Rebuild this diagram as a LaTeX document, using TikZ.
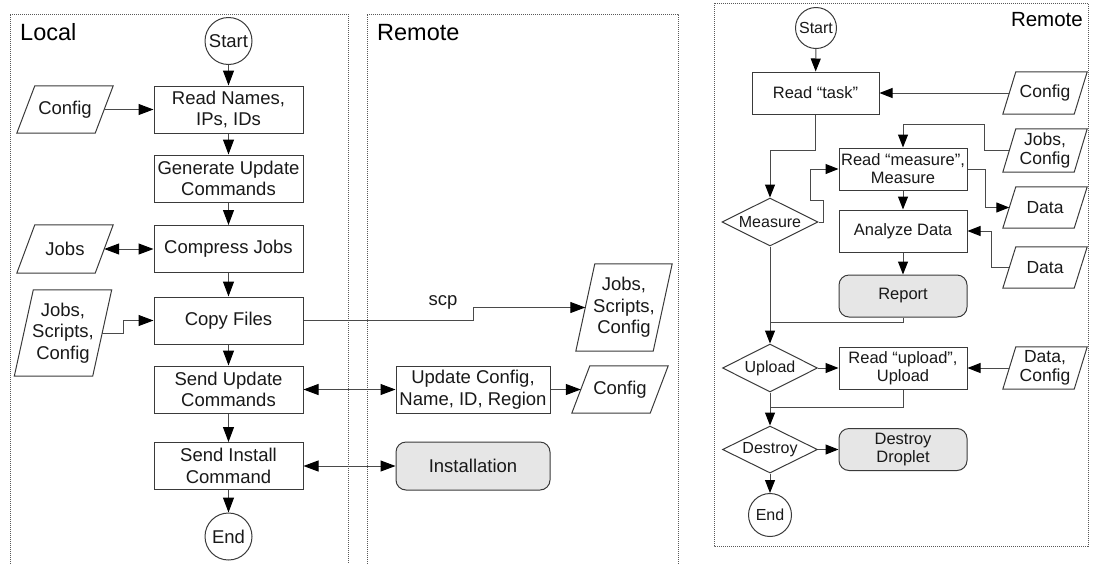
\documentclass[tikz,border=0pt]{standalone}
\usepackage{fontspec}
\setmainfont{Liberation Sans}
\usetikzlibrary{arrows.meta,calc,shapes.geometric}

\newcommand\fsL{\fontsize{18.5}{21.5}\selectfont}
\newcommand\fsR{\fontsize{16.5}{18}\selectfont}
\newcommand\fsIO{\fontsize{17.5}{19}\selectfont}
% slanted data (input/output) outline around a named text node
\newcommand\ioframe[2]{\draw[iofrm] ($(#1.south west)+(-#2,0)$) -- ($(#1.north west)+(#2,0)$) -- ($(#1.north east)+(#2,0)$) -- ($(#1.south east)+(-#2,0)$) -- cycle;}

\definecolor{edge}{HTML}{3A3A3A}
\definecolor{wire}{HTML}{4A4A4A}
\definecolor{shade}{HTML}{E6E6E6}

\tikzset{
  panel/.style={draw=black!65, line width=0.8pt, dash pattern=on 1pt off 1pt},
  procL/.style={draw=edge, line width=1pt, fill=white, inner sep=0pt, align=center,
    minimum width=149pt, minimum height=47pt, font=\fsL, text=black!90},
  procR/.style={draw=edge, line width=1pt, fill=white, inner sep=0pt, align=center,
    minimum width=128pt, minimum height=42pt, font=\fsR, text=black!90},
  termR/.style={procR, fill=shade, rounded corners=10pt},
  ioL/.style={inner sep=0pt, align=center, font=\fsL, text=black!90},
  ioR/.style={inner sep=0pt, align=center, font=\fsIO, text=black!90,
    minimum width=71pt},
  iofrm/.style={draw=edge, line width=1pt},
  circL/.style={circle, draw=edge, line width=1pt, inner sep=0pt, minimum size=47pt,
    font=\fsL, text=black!90},
  circR/.style={circle, draw=edge, line width=1pt, inner sep=0pt, minimum size=41pt,
    font=\fontsize{16}{18}\selectfont, text=black!90},
  diam/.style={diamond, draw=edge, line width=1pt, inner sep=0pt, aspect=2,
    minimum width=96pt, minimum height=48pt, font=\fontsize{16}{18}\selectfont,
    text=black!90},
  wireln/.style={draw=wire, line width=1pt},
  tipL/.tip={Triangle[length=15pt,width=11pt,color=black]},
  tipR/.tip={Triangle[length=13pt,width=10pt,color=black]},
  arr/.style={wireln, -tipL},
  darr/.style={wireln, tipL-tipL},
  arrR/.style={wireln, -tipR},
  title/.style={inner sep=0pt, text=black}
}

\begin{document}
\begin{tikzpicture}[x=1pt,y=-1pt]
\useasboundingbox (0,0) rectangle (1094,563);

% ---------- panel frames ----------
\draw[panel] (10,566) -- (10,14) -- (348,14) -- (348,566);
\draw[panel] (367,566) -- (367,14) -- (678,14) -- (678,566);
\draw[panel] (714,3) rectangle (1088,546);

\node[title, anchor=base west, font=\fontsize{23.5}{26}\selectfont] (tLocal) at (20,40) {Local};
\node[title, anchor=base west, font=\fontsize{23.5}{26}\selectfont] (tRemA) at (377,40) {Remote};
\node[title, anchor=base east, font=\fontsize{20.5}{23}\selectfont] (tRemB) at (1083,26) {Remote};

% ---------- local flow ----------
\node[circL] (startL) at (228.5,41) {Start};
\node[procL] (rn)  at (228.5,109.5) {Read Names,\\IPs, IDs};
\node[procL] (gen) at (228.5,178.5) {Generate Update\\Commands};
\node[procL] (cj)  at (228.5,249) {Compress Jobs};
\node[procL] (cf)  at (228.5,320.5) {Copy Files};
\node[procL] (su)  at (228.5,389.5) {Send Update\\Commands};
\node[procL] (si)  at (228.5,466) {Send Install\\Command};
\node[circL] (endL) at (228.5,536.5) {End};

\node[ioL, minimum width=78pt, minimum height=47pt] (cfgL) at (65,109.5) {Config};
\ioframe{cfgL}{9}
\node[ioL, minimum width=78pt, minimum height=48pt] (jobsL) at (65,249) {Jobs};
\ioframe{jobsL}{9}
\node[ioL, minimum width=78pt, minimum height=86pt] (jscL) at (63,333) {Jobs,\\Scripts,\\Config};
\ioframe{jscL}{9.5}

\draw[arr] (startL) -- (rn);
\draw[arr] (rn) -- (gen);
\draw[arr] (gen) -- (cj);
\draw[arr] (cj) -- (cf);
\draw[arr] (cf) -- (su);
\draw[arr] (su) -- (si);
\draw[arr] (si) -- (endL);

\draw[arr] (cfgL.east) -- (rn.west);
\draw[darr] (jobsL.east) -- (cj.west);
\draw[arr] (jscL.east) -- ++(21,0) |- (cf.west);

% ---------- remote side of the local flow ----------
\node[ioL, minimum width=77pt, minimum height=87pt] (jscR) at (624,307.5) {Jobs,\\Scripts,\\Config};
\ioframe{jscR}{9.5}
\node[procL, minimum width=154pt] (uc) at (473,389.5) {Update Config,\\Name, ID, Region};
\node[ioL, minimum width=78pt, minimum height=47pt] (cfgM) at (620,389.5) {Config};
\ioframe{cfgM}{9}
\node[procL, minimum width=154pt, minimum height=48pt, fill=shade, rounded corners=10pt] (inst) at (473,466) {Installation};

\draw[arr] (cf.east) -- ++(170,0) |- (jscR.west);
\node[ioL] (scp) at (443,302) {scp};
\draw[darr] (su.east) -- (uc.west);
\draw[arr] (uc.east) -- (cfgM.west);
\draw[darr] (si.east) -- (inst.west);

% ---------- remote flow ----------
\node[circR] (startR) at (816,28) {Start};
\node[procR, minimum width=127pt] (task) at (815.5,93) {Read “task”};
\node[procR] (measB) at (903,169) {Read “measure”,\\Measure};
\node[procR] (ana) at (903,231) {Analyze Data};
\node[termR] (rep) at (903,296) {Report};
\node[procR] (rup) at (903,368) {Read “upload”,\\Upload};
\node[termR] (dd) at (903,449.5) {Destroy\\Droplet};

\node[diam] (measD) at (770,222) {Measure};
\node[diam, minimum width=95pt] (upD) at (770,368) {Upload};
\node[diam, minimum width=95pt, minimum height=47pt] (desD) at (770,449.5) {Destroy};
\node[circR, minimum size=43pt] (endR) at (770,515) {End};

\node[ioR, minimum height=42pt] (cfgR) at (1045,93) {Config};
\ioframe{cfgR}{6.5}
\node[ioR, minimum height=43pt] (jcR) at (1045,150.5) {Jobs,\\Config};
\ioframe{jcR}{6.5}
\node[ioR, minimum height=41pt] (d1R) at (1045,207.5) {Data};
\ioframe{d1R}{6.5}
\node[ioR, minimum height=41pt] (d2R) at (1045,267.5) {Data};
\ioframe{d2R}{6.5}
\node[ioR, minimum height=42pt] (dcR) at (1045,368) {Data,\\Config};
\ioframe{dcR}{6.5}

\coordinate (j1) at (770,322);
\coordinate (j2) at (770,407);

\draw[arrR] (startR) -- (task);
\draw[arrR] (cfgR.west) -- (task.east);
\draw[arrR] (task.south) -- ++(0,36) -| (measD.north);
\draw[arrR] (measD.east) -- ++(5,0) -- ++(0,-22) -- ++(-13,0) |- (measB.west);
\draw[arrR] (jcR.west) -- ++(-24.5,0) |- ($(measB.north)+(0,-23)$) -- (measB.north);
\draw[arrR] (measB.east) -- ++(18,0) |- (d1R.west);
\draw[arrR] (measB) -- (ana);
\draw[arrR] (d2R.west) -- ++(-17.5,0) |- (ana.east);
\draw[arrR] (ana) -- (rep);
\draw[wireln] (rep.south) |- (j1);
\draw[arrR] (measD.south) -- (upD.north);
\draw[arrR] (upD.east) -- (rup.west);
\draw[arrR] (dcR.west) -- (rup.east);
\draw[wireln] (rup.south) |- (j2);
\draw[arrR] (upD.south) -- (desD.north);
\draw[arrR] (desD.east) -- (dd.west);
\draw[arrR] (desD.south) -- (endR.north);
\end{tikzpicture}
\end{document}
